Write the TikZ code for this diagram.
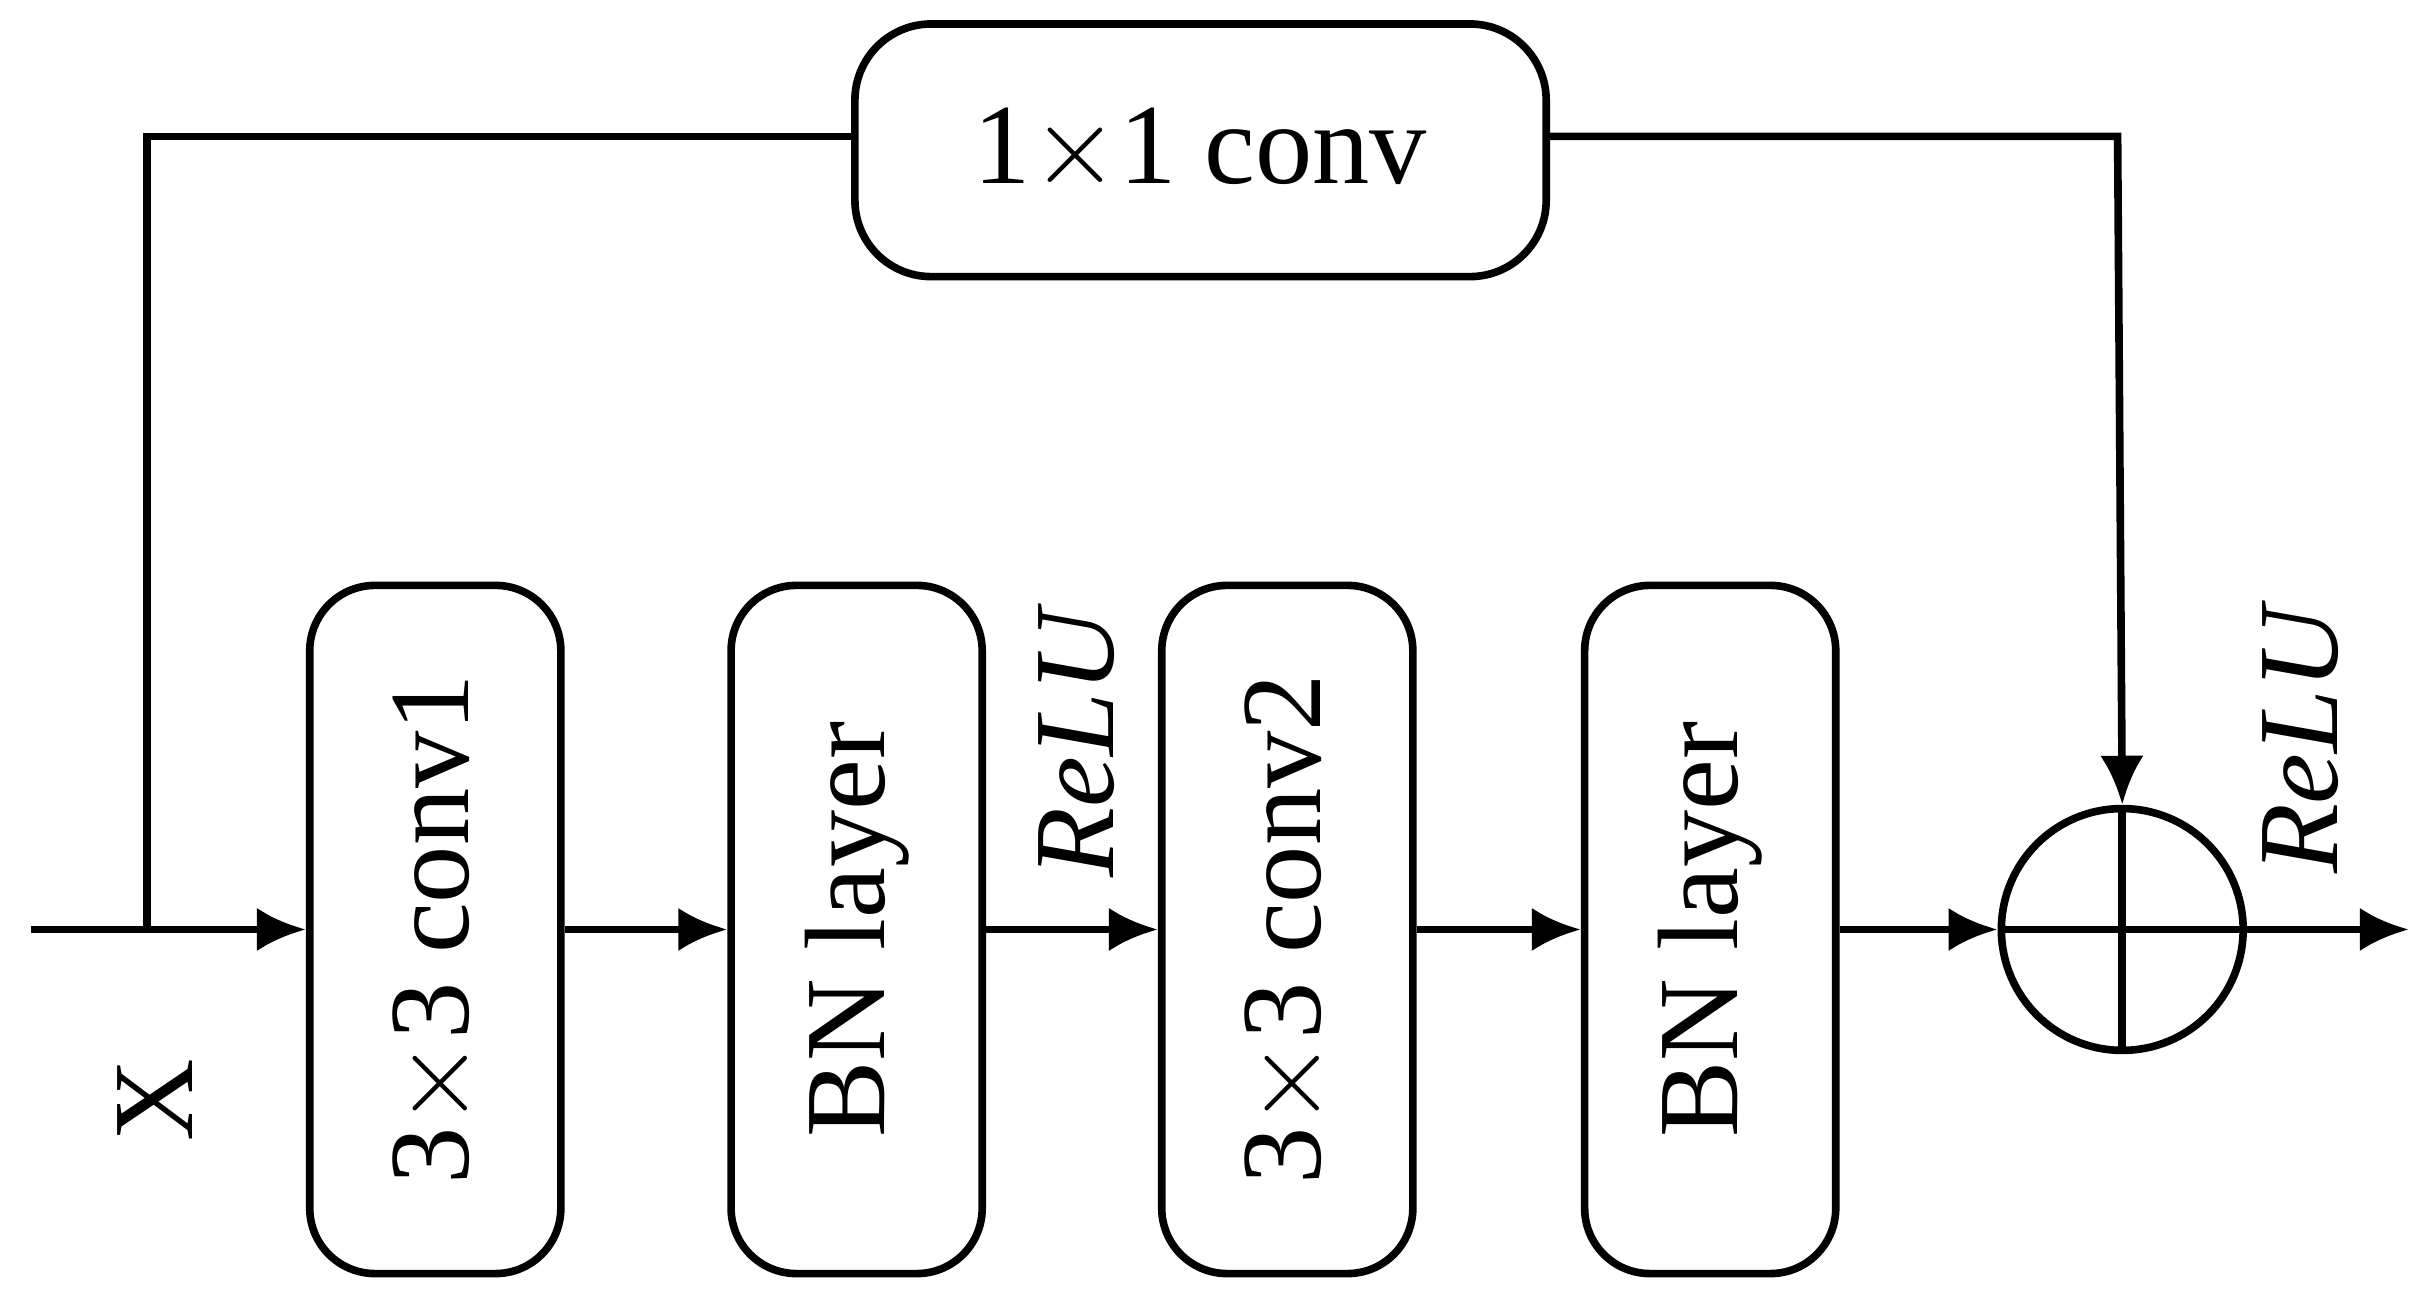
\documentclass[tikz,border=0pt]{standalone}
\usepackage{fontspec}
\setmainfont{Liberation Serif}
\usetikzlibrary{arrows.meta}
\tikzset{%
        block/.style={
                draw,
                rounded corners=12pt,
                line width=1.4pt,
                minimum width=1.62cm,
                minimum height=4.44cm
            },
        flow/.style={
                line width=1.4pt,
                -{Latex[length=9pt,width=8pt]}
            }
    }
\begin{document}
\begin{tikzpicture}[x=0.01cm,y=-0.01cm,font=\fontsize{21}{24}\selectfont,line width=1.4pt]
    \useasboundingbox (0,0) rectangle (1568,838);

    % main path:
        \coordinate (in) at (20,600);
        \coordinate (split) at (95,600);
        \node [block]  (c1) at (281,600) {};
        \node [rotate=90] at (c1) {3$\times$3 conv1};
        \node [block]  (bn1) at (553,600) {};
        \node [rotate=90] at (bn1) {BN layer};
        \node [block]  (c2) at (831,600) {};
        \node [rotate=90] at (c2) {3$\times$3 conv2};
        \node [block]  (bn2) at (1104,600) {};
        \node [rotate=90] at (bn2) {BN layer};
        \node [draw, circle, minimum size=1.56cm, inner sep=0pt]  (sum) at (1370,600) {};
        \coordinate (out) at (1555,600);

        \draw (sum.north) -- (sum.south);
        \draw (sum.west) -- (sum.east);

        \draw[flow] (in) -- (c1);
        \draw[flow] (c1) -- (bn1);
        \draw[flow] (bn1) -- (c2);
        \draw[flow] (c2) -- (bn2);
        \draw[flow] (bn2) -- (sum);
        \draw[flow] (sum) -- (out);

        \node [rotate=90] (x) at (100,710) {X};
        \node [rotate=90, font=\fontsize{21}{24}\selectfont\itshape] (r1) at (695,480) {ReLU};
        \node [rotate=90, font=\fontsize{21}{24}\selectfont\itshape] (r2) at (1485,478) {ReLU};

    % shortcut:
        \node [draw, rounded corners=14pt, minimum width=4.46cm, minimum height=1.63cm]  (sc) at (775,97) {1$\times$1 conv};
        \coordinate (tl) at (95,88);
        \coordinate (tr) at (1367,88);

        \draw (split) -- (tl) -- (tl -| sc.west);
        \draw[flow] (tr -| sc.east) -- (tr) -- (sum.north);
\end{tikzpicture}
\end{document}
